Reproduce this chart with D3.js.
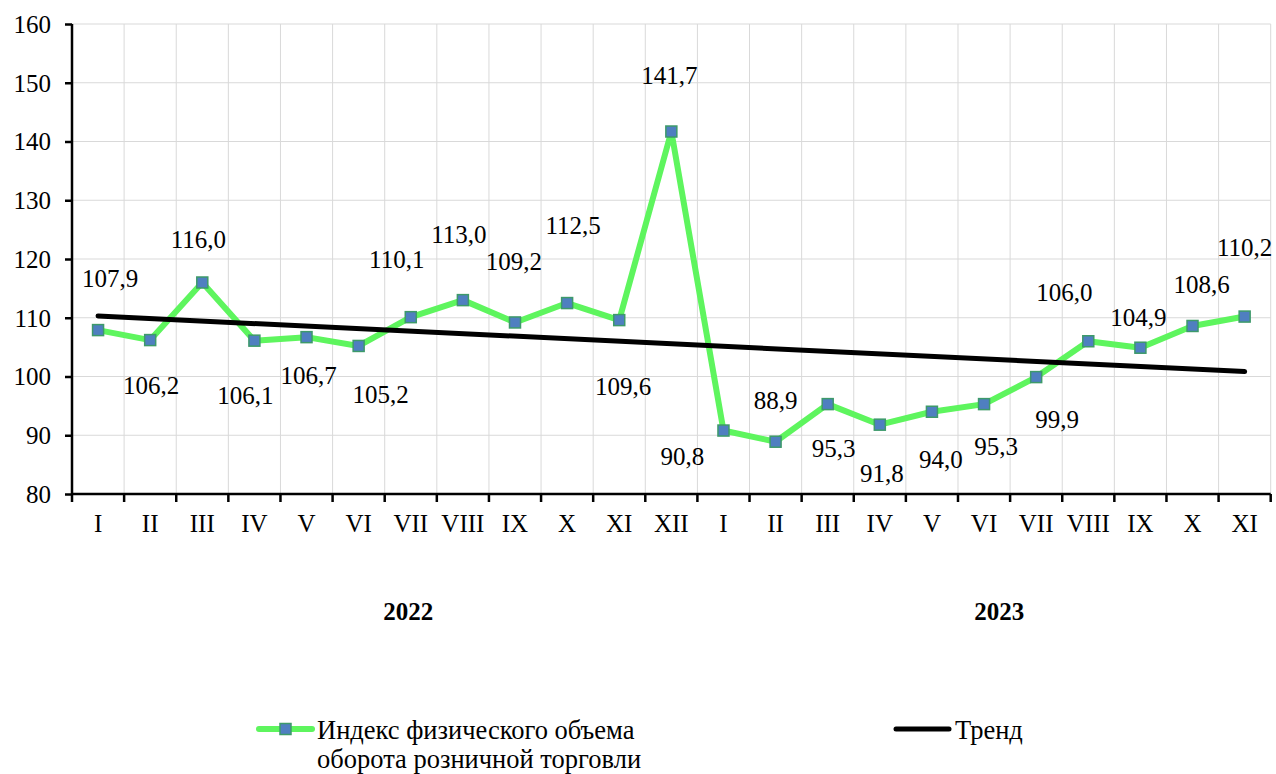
<!DOCTYPE html>
<html>
<head>
<meta charset="utf-8">
<script src="https://cdn.jsdelivr.net/npm/d3@7"></script>
<style>
  body { margin: 0; background: #fff; }
</style>
</head>
<body>
<div id="viz"></div>
<script>
// data
const months = ['I','II','III','IV','V','VI','VII','VIII','IX','X','XI','XII',
                'I','II','III','IV','V','VI','VII','VIII','IX','X','XI'];
const values = [107.9, 106.2, 116.0, 106.1, 106.7, 105.2, 110.1, 113.0, 109.2, 112.5, 109.6, 141.7,
                90.8, 88.9, 95.3, 91.8, 94.0, 95.3, 99.9, 106.0, 104.9, 108.6, 110.2];
const years = ['2022', '2023'];
const trendEnds = [110.3, 100.85];
const yTicks = [80, 90, 100, 110, 120, 130, 140, 150, 160];

// label nudges (px from point), as placed in the original
const labelOffsets = [[12,-43],[1,54],[-4,-35],[-9,63],[2,47],[22,57],[-14,-49],[-4,-57],[-1,-52],[6,-69],[4,75],[-2,-48],
                      [-41,34],[0,-33],[6,53],[2,57],[9,56],[12,51],[21,51],[-24,-40],[-2,-22],[9,-33],[0,-61]];
const yearPos = [6.45, 17.79];

const serif = '"Liberation Serif", "Times New Roman", serif';
const w = 1276, h = 774;
const mLeft = 72, mRight = 1270.7, mTop = 24, mBottom = 494;

const svg = d3.select('#viz').append('svg')
  .attr('width', w).attr('height', h);

const keys = months.map((m, i) => i);
const x = d3.scaleBand().domain(keys).range([mLeft, mRight]).padding(0);
const y = d3.scaleLinear().domain([80, 160]).range([mBottom, mTop]);
const cx = i => x(i) + x.bandwidth() / 2;

// grid
const grid = svg.append('g').attr('stroke', '#d9d9d9').attr('stroke-width', 1);
grid.selectAll('line.h').data(yTicks.slice(1)).enter().append('line')
  .attr('x1', mLeft).attr('x2', mRight)
  .attr('y1', d => y(d)).attr('y2', d => y(d));
grid.selectAll('line.v').data(keys.slice(1).concat([null])).enter().append('line')
  .attr('x1', d => d === null ? mRight : x(d)).attr('x2', d => d === null ? mRight : x(d))
  .attr('y1', mTop).attr('y2', mBottom);

// axes
const yAxis = d3.axisLeft(y).tickValues(yTicks).tickSize(7).tickPadding(14);
const gy = svg.append('g').attr('transform', `translate(${mLeft},0)`).call(yAxis);
gy.select('.domain').attr('stroke-width', 2.5).attr('d', `M0,${mTop}V${mBottom}`);
gy.selectAll('.tick line').attr('stroke-width', 2.5);
gy.selectAll('.tick text')
  .style('font-family', serif).style('font-size', '25px').attr('dy', '0.33em');

const gx = svg.append('g').attr('transform', `translate(0,${mBottom})`);
gx.append('line').attr('x1', mLeft).attr('x2', mRight).attr('stroke', '#000').attr('stroke-width', 2.5);
gx.selectAll('line.t').data(keys.concat([null])).enter().append('line')
  .attr('x1', d => d === null ? mRight : x(d)).attr('x2', d => d === null ? mRight : x(d))
  .attr('y1', 0).attr('y2', 8).attr('stroke', '#000').attr('stroke-width', 2.5);
gx.selectAll('text.m').data(keys).enter().append('text')
  .attr('x', d => cx(d)).attr('y', 38)
  .attr('text-anchor', 'middle')
  .style('font-family', serif).style('font-size', '25px')
  .text(d => months[d]);

const yearX = d3.scaleLinear().domain([0, months.length]).range([mLeft, mRight]);
svg.selectAll('text.year').data(years).enter().append('text')
  .attr('x', (d, i) => yearX(yearPos[i])).attr('y', 620)
  .attr('text-anchor', 'middle')
  .style('font-family', serif).style('font-size', '25px').style('font-weight', 'bold')
  .text(d => d);

// series line
const line = d3.line().x((d, i) => cx(i)).y(d => y(d));
svg.append('path').datum(values)
  .attr('d', line).attr('fill', 'none')
  .attr('stroke', '#5ef55e').attr('stroke-width', 6).attr('stroke-linejoin', 'round');

// trend
svg.append('line')
  .attr('x1', cx(0)).attr('y1', y(trendEnds[0]))
  .attr('x2', cx(values.length - 1)).attr('y2', y(trendEnds[1]))
  .attr('stroke', '#000').attr('stroke-width', 5).attr('stroke-linecap', 'round');

// markers
svg.selectAll('rect.pt').data(values).enter().append('rect')
  .attr('x', (d, i) => cx(i) - 5.5).attr('y', d => y(d) - 5.5)
  .attr('width', 11).attr('height', 11)
  .attr('fill', '#4f7fc0').attr('stroke', '#3d9a6a').attr('stroke-width', 1.5);

// data labels
svg.selectAll('text.lbl').data(values).enter().append('text')
  .attr('x', (d, i) => cx(i) + labelOffsets[i][0])
  .attr('y', (d, i) => y(d) + labelOffsets[i][1])
  .attr('text-anchor', 'middle')
  .style('font-family', serif).style('font-size', '25px')
  .text(d => d3.format('.1f')(d).replace('.', ','));

// legend
const lg = svg.append('g');
lg.append('line').attr('x1', 259).attr('x2', 312).attr('y1', 729).attr('y2', 729)
  .attr('stroke', '#5ef55e').attr('stroke-width', 6).attr('stroke-linecap', 'round');
lg.append('rect').attr('x', 280).attr('y', 723.5).attr('width', 11).attr('height', 11)
  .attr('fill', '#4f7fc0').attr('stroke', '#3d9a6a').attr('stroke-width', 1.5);
const lt = lg.append('text').attr('x', 317).attr('y', 739)
  .style('font-family', serif).style('font-size', '26.5px');
lt.append('tspan').attr('x', 317).text('Индекс физического объема');
lt.append('tspan').attr('x', 317).attr('dy', 29).text('оборота розничной торговли');

lg.append('line').attr('x1', 896).attr('x2', 949).attr('y1', 729).attr('y2', 729)
  .attr('stroke', '#000').attr('stroke-width', 5).attr('stroke-linecap', 'round');
lg.append('text').attr('x', 955).attr('y', 739)
  .style('font-family', serif).style('font-size', '26.5px').text('Тренд');
</script>
</body>
</html>
